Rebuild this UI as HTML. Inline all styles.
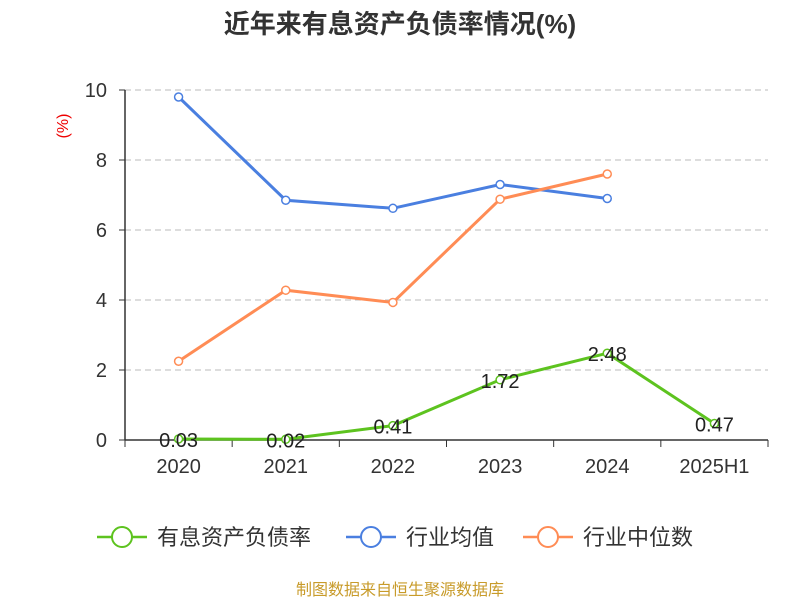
<!DOCTYPE html>
<html><head><meta charset="utf-8"><style>
body{margin:0;background:#fff;}
svg text{font-family:"Liberation Sans","Noto Sans CJK SC",sans-serif;}
</style></head><body>
<svg id="c" width="800" height="600">
<text x="400" y="33" text-anchor="middle" font-size="26" font-weight="bold" fill="#333">近年来有息资产负债率情况(%)</text>
<text x="68" y="126" font-size="16" fill="#e00" text-anchor="middle" transform="rotate(-90 68 126)">(%)</text>
<g id="grid"></g><g id="axes"></g><g id="series"></g>
<g>
<g><line x1="97" y1="537" x2="147" y2="537" stroke="#5dc31f" stroke-width="2.5"/><circle cx="122" cy="537" r="10" fill="#fff" stroke="#5dc31f" stroke-width="2"/><text x="157" y="545" font-size="22" fill="#333">有息资产负债率</text></g>
<g><line x1="346" y1="537" x2="396" y2="537" stroke="#4a7fe0" stroke-width="2.5"/><circle cx="371" cy="537" r="10" fill="#fff" stroke="#4a7fe0" stroke-width="2"/><text x="406" y="545" font-size="22" fill="#333">行业均值</text></g>
<g><line x1="523" y1="537" x2="573" y2="537" stroke="#ff8c55" stroke-width="2.5"/><circle cx="548" cy="537" r="10" fill="#fff" stroke="#ff8c55" stroke-width="2"/><text x="583" y="545" font-size="22" fill="#333">行业中位数</text></g>
</g>
<text x="400" y="595" text-anchor="middle" font-size="16" fill="#c89b2a">制图数据来自恒生聚源数据库</text>
</svg>
<script>
const categories=["2020","2021","2022","2023","2024","2025H1"];
const debtRatio=[0.03,0.02,0.41,1.72,2.48,0.47];
const industryAvg=[9.8,6.85,6.62,7.3,6.9];
const industryMedian=[2.25,4.28,3.93,6.88,7.6];
const yTicks=[0,2,4,6,8,10];
const NS="http://www.w3.org/2000/svg";
const x0=125,x1=768,y0=440,y1=90,yMax=10;
const bw=(x1-x0)/categories.length;
const xs=i=>x0+bw*(i+0.5);
const ys=v=>y0-(v/yMax)*(y0-y1);
function mk(tag,attrs,parent){const e=document.createElementNS(NS,tag);for(const k in attrs)e.setAttribute(k,attrs[k]);document.getElementById(parent).appendChild(e);return e;}
yTicks.forEach(t=>{
 if(t>0){const g=mk('line',{x1:x0,x2:x1,y1:ys(t),y2:ys(t),stroke:'#bbb','stroke-dasharray':'6,4'},'grid');
 
 }
 const l=mk('text',{x:x0-18,y:ys(t)+7,'text-anchor':'end','font-size':20,fill:'#333'},'axes');l.textContent=t;
 
 
 mk('line',{x1:x0-6,x2:x0,y1:ys(t),y2:ys(t),stroke:'#333'},'axes');
});
const ya=mk('line',{x1:x0,x2:x0,y1:y1,y2:y0,stroke:'#333','stroke-width':1.5},'axes');


const xa=mk('line',{x1:x0,x2:x1,y1:y0,y2:y0,stroke:'#333','stroke-width':1.5},'axes');


for(let i=0;i<=categories.length;i++)mk('line',{x1:x0+bw*i,x2:x0+bw*i,y1:y0,y2:y0+7,stroke:'#333'},'axes');
categories.forEach((c,i)=>{const t=mk('text',{x:xs(i),y:y0+33,'text-anchor':'middle','font-size':20,fill:'#333'},'axes');t.textContent=c;
 
 });
function series(vals,color,name,labels){
 const p=mk('polyline',{points:vals.map((v,i)=>xs(i)+','+ys(v)).join(' '),fill:'none',stroke:color,'stroke-width':3},'series');
 
 
 vals.forEach((v,i)=>{
  const c=mk('circle',{cx:xs(i),cy:ys(v),r:4,fill:'#fff',stroke:color,'stroke-width':1.5},'series');
  
  
  if(labels){const t=mk('text',{x:xs(i),y:ys(v)+8,'text-anchor':'middle','font-size':20,fill:'#222'},'series');t.textContent=v.toFixed(2);
   
   }
 });
}
series(industryAvg,'#4a7fe0','industry-avg',false);
series(industryMedian,'#ff8c55','industry-median',false);
series(debtRatio,'#5dc31f','debt-ratio',true);
</script>
</body></html>
